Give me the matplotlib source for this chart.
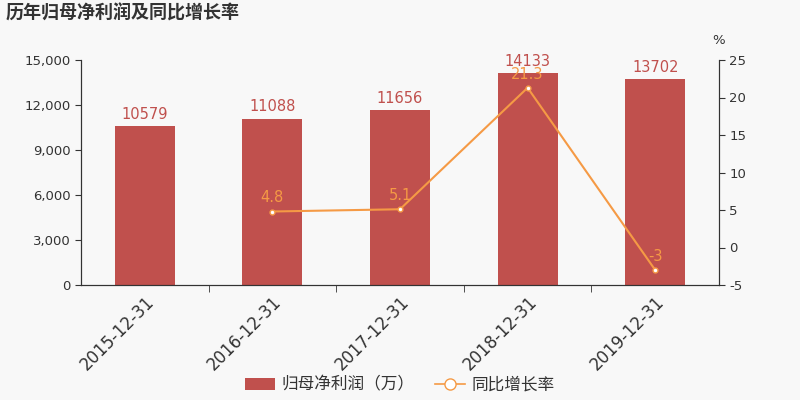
import numpy as np
import matplotlib.pyplot as plt
from matplotlib.ticker import FuncFormatter
from matplotlib.lines import Line2D
from matplotlib.patches import FancyBboxPatch, Patch

plt.rcParams['font.family'] = ['DejaVu Sans', 'Noto Sans CJK SC']
plt.rcParams['axes.unicode_minus'] = False

years = ['2015-12-31', '2016-12-31', '2017-12-31', '2018-12-31', '2019-12-31']
profit = [10579, 11088, 11656, 14133, 13702]
growth_years = ['2016-12-31', '2017-12-31', '2018-12-31', '2019-12-31']
growth = [4.8, 5.1, 21.3, -3]

bar_color = '#c0504d'
line_color = '#f59a45'
bg = '#f8f8f8'
txt = '#333333'

fig = plt.figure(figsize=(8, 4), dpi=100, facecolor=bg)
ax = fig.add_axes([81 / 800, 1 - 285 / 400, 638 / 800, 225 / 400])
ax.set_facecolor(bg)

x = np.arange(len(years))
ax.bar(x, profit, width=0.47, color=bar_color, zorder=2)
for xi, v in zip(x, profit):
    ax.text(xi, v + 300, str(v), ha='center', va='bottom', color=bar_color, fontsize=10.5)

ax.set_xlim(-0.5, len(years) - 0.5)
ax.set_ylim(0, 15000)
ax.set_yticks(np.arange(0, 15001, 3000))
ax.yaxis.set_major_formatter(FuncFormatter(lambda v, p: f'{int(v):,}'))
ax.set_xticks(x)
ax.set_xticklabels(years, rotation=45, ha='right', rotation_mode='anchor', fontsize=12, color=txt)
ax.tick_params(axis='x', length=0, pad=6)
ax.set_xticks(np.arange(0.5, len(years) - 1, 1), minor=True)
ax.tick_params(axis='x', which='minor', length=5, color=txt)
ax.tick_params(axis='y', labelsize=9.5, colors=txt, length=4)
ax.spines['top'].set_visible(False)
for s in ['left', 'right', 'bottom']:
    ax.spines[s].set_color(txt)

ax2 = ax.twinx()
gx = [years.index(g) for g in growth_years]
ax2.plot(gx, growth, color=line_color, lw=1.5, marker='o', ms=3.5,
         markerfacecolor='white', markeredgecolor=line_color, markeredgewidth=1, zorder=3)
for xi, v in zip(gx, growth):
    ax2.text(xi, v + 0.8, f'{v:g}', ha='center', va='bottom', color=line_color, fontsize=10.5)
ax2.set_ylim(-5, 25)
ax2.set_yticks(np.arange(-5, 26, 5))
ax2.tick_params(axis='y', labelsize=9.5, colors=txt, length=4)
ax2.spines['top'].set_visible(False)
for s in ['left', 'right', 'bottom']:
    ax2.spines[s].set_color(txt)
ax2.text(1.0, 1.06, '%', transform=ax2.transAxes, ha='center', va='bottom', fontsize=9.5, color=txt)

fig.text(6 / 800, 1 - 13 / 400, '历年归母净利润及同比增长率', fontsize=13, fontweight='bold',
         color=txt, ha='left', va='center', family=['Noto Sans CJK SC', 'DejaVu Sans'])

handles = [Patch(facecolor=bar_color, edgecolor='none'),
           Line2D([0], [0], color=line_color, lw=1.2, marker='o', ms=8,
                  markerfacecolor='white', markeredgecolor=line_color)]
fig.legend(handles, ['归母净利润（万）', '同比增长率'], loc='center', bbox_to_anchor=(0.5, 1 - 385 / 400),
           ncol=2, frameon=False, fontsize=12, handlelength=1.8, columnspacing=1.2,
           handletextpad=0.4, labelcolor=txt,
           prop={'family': ['Noto Sans CJK SC', 'DejaVu Sans'], 'size': 12})

fig.savefig('out.png', dpi=100, facecolor=bg)
